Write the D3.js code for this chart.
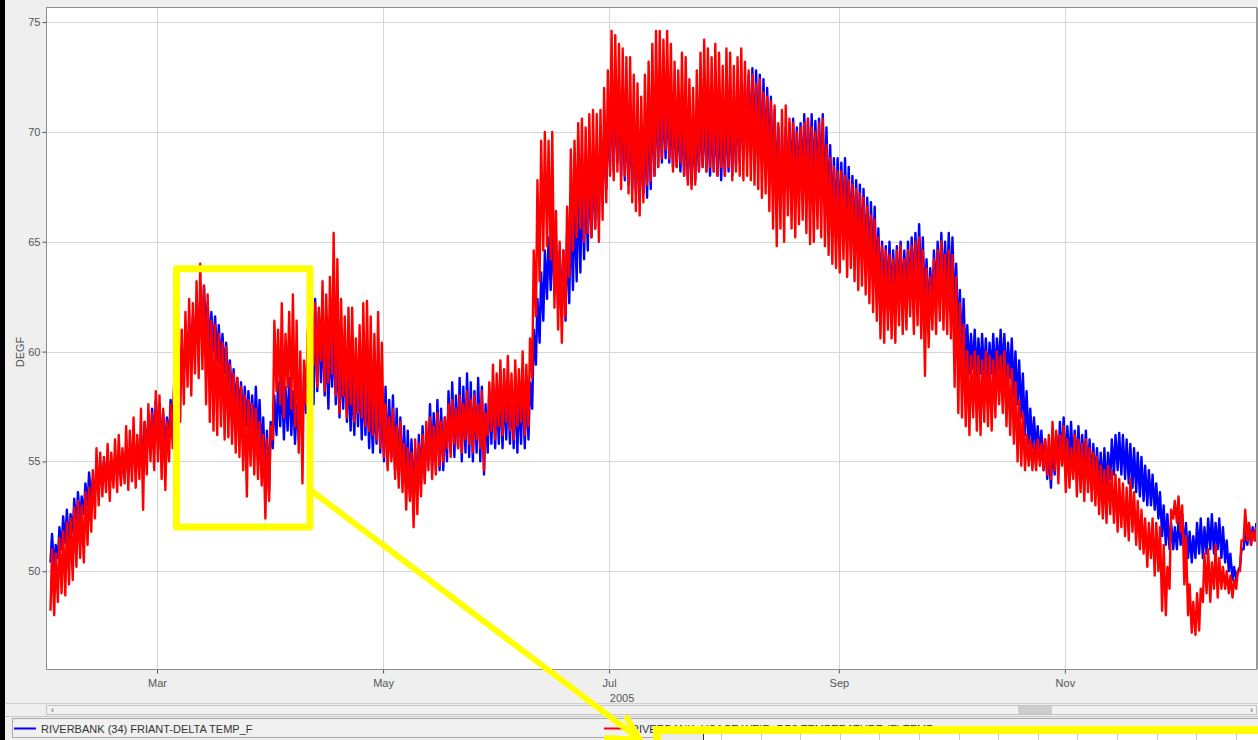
<!DOCTYPE html>
<html><head><meta charset="utf-8">
<script src="https://cdn.jsdelivr.net/npm/d3@7"></script>
<style>
html,body{margin:0;padding:0;background:#efefef;overflow:hidden;}
svg{display:block;font-family:"Liberation Sans",Arial,sans-serif;}
</style></head><body>
<svg id="chart" width="1258" height="740"></svg>
<script>
// ---------- data (daily low / high, starting 31 Jan 2005) ----------
const firstDay = [2005, 0, 31];
const blueHigh = [
51.7,51.2,52.0,52.5,52.8,52.6,53.3,53.6,53.4,54.0,54.5,54.2,54.8,54.6,55.0,55.2,54.8,55.0,55.2,55.4,55.6,55.4,56.0,55.8,56.2,56.8,57.0,57.4,57.8,
57.6,57.2,57.0,57.8,58.6,59.7,60.2,60.6,61.2,61.6,62.0,62.4,63.0,62.2,61.8,61.6,61.2,60.8,60.4,59.6,59.2,58.8,58.6,58.4,58.2,58.0,58.4,57.8,57.0,56.4,56.8,
58.0,58.6,59.0,58.4,58.8,58.2,57.6,58.4,59.0,60.2,61.6,62.4,61.8,61.4,60.6,60.4,61.0,60.2,59.6,60.0,59.2,58.8,59.0,59.4,58.6,58.8,58.2,57.8,58.6,58.2,
58.4,57.8,58.0,57.4,57.0,56.6,56.4,56.0,55.6,56.2,56.6,56.0,57.6,57.2,57.8,57.4,57.0,58.2,58.6,58.0,58.8,58.4,59.0,58.6,58.2,58.8,58.4,57.6,58.2,58.6,58.2,
58.6,58.4,58.8,58.4,58.6,58.2,58.8,58.4,58.6,61.0,62.4,63.6,64.6,65.2,65.6,65.0,64.6,64.6,65.4,66.4,67.0,67.6,67.8,68.2,68.4,68.8,69.0,69.2,69.8,70.4,
72.0,71.6,71.8,71.4,71.0,70.6,70.4,70.0,69.8,70.4,71.2,71.8,72.2,72.0,71.6,71.8,71.4,71.2,71.0,70.8,70.6,70.4,70.4,70.6,71.0,71.2,71.0,70.8,71.0,70.8,70.6,
71.0,71.2,71.0,71.6,71.8,72.2,72.6,72.9,72.8,72.6,72.4,72.0,71.6,71.0,70.2,69.8,70.2,70.4,70.6,70.2,70.4,70.8,70.6,70.8,70.5,70.6,70.8,70.2,69.4,68.8,68.8,
68.6,68.8,68.4,68.0,67.8,67.6,67.4,67.0,66.8,66.6,65.6,65.0,64.8,65.0,64.6,64.8,65.0,64.6,65.0,65.2,65.4,65.8,65.2,64.2,63.8,64.6,65.0,65.4,65.0,65.4,
65.2,64.0,62.8,62.4,61.2,60.8,61.0,60.6,60.8,60.6,60.4,60.8,60.6,61.0,60.8,60.4,60.6,60.0,59.6,59.0,58.2,57.4,57.0,56.6,56.4,56.0,55.6,55.8,56.2,56.8,57.0,
56.6,56.8,56.4,56.6,56.2,56.4,56.0,55.8,55.6,55.4,55.6,55.4,56.0,56.2,56.3,56.2,56.0,55.8,55.6,55.4,55.2,54.8,54.6,54.4,54.0,53.6,53.0,52.6,52.2,52.0,
52.4,52.6,52.2,51.8,51.6,52.2,52.4,52.0,52.4,52.6,52.2,52.4,52.0,51.4,50.8,50.2,50.0,51.0,51.8,52.2,52.0,52.2];
const blueLow = [
50.4,50.0,50.6,51.0,51.3,51.2,51.8,52.0,52.2,52.6,53.0,53.2,53.6,53.8,54.0,54.2,54.0,54.2,54.4,54.2,54.6,54.4,54.8,54.6,55.0,55.2,55.4,55.8,56.0,
56.0,55.6,55.4,56.0,56.6,57.8,58.4,59.0,59.4,60.0,60.4,60.6,61.0,60.6,60.2,60.0,59.6,59.4,59.0,58.2,57.8,57.4,57.2,56.8,56.6,56.4,56.2,55.8,55.2,53.8,53.6,
55.6,56.2,56.6,56.0,56.4,56.2,55.8,56.0,56.4,57.2,57.8,57.6,58.2,58.6,58.0,57.4,58.4,57.6,57.0,57.4,56.8,56.4,56.2,56.6,56.0,56.2,55.6,55.4,55.8,55.4,
55.0,54.8,55.2,54.6,54.4,54.0,53.8,53.4,53.2,53.6,54.0,54.2,55.0,54.8,55.0,54.6,54.6,55.0,55.4,55.2,55.6,55.0,55.4,55.2,55.0,55.4,55.0,54.4,55.4,55.8,55.6,
55.8,55.6,56.0,55.8,55.6,55.4,55.8,55.6,56.0,57.4,59.4,60.4,61.4,62.4,62.8,62.6,62.0,61.6,61.4,62.2,62.8,63.2,63.6,64.2,64.6,65.2,65.6,66.0,66.8,67.4,
68.4,68.2,68.6,68.0,67.8,67.6,67.4,67.2,66.8,67.2,67.0,67.4,68.0,68.4,68.6,68.8,68.6,68.4,68.4,68.2,68.0,67.8,67.6,67.8,68.2,68.4,68.2,68.0,68.2,68.0,67.8,
68.0,68.2,68.0,68.4,68.6,68.8,69.0,69.2,69.0,68.8,68.6,68.4,68.0,67.6,67.0,66.6,67.2,67.4,67.6,67.2,67.4,67.6,67.4,67.6,67.2,67.4,67.4,66.8,66.0,65.6,65.4,
65.4,65.6,65.2,64.8,64.6,64.4,64.2,63.8,63.6,63.4,62.8,62.4,62.2,62.4,62.0,62.2,62.4,62.0,62.4,62.6,62.8,63.0,62.6,61.8,61.4,62.0,62.4,62.8,62.6,62.8,
62.6,61.4,60.2,59.6,59.2,59.0,59.2,58.8,59.0,58.8,58.6,59.0,58.8,59.2,59.0,58.6,58.8,58.0,57.6,57.0,56.2,55.8,55.6,55.4,55.2,54.6,54.2,53.8,54.4,54.8,55.0,
54.6,54.8,54.6,54.8,54.4,54.6,54.2,54.0,54.0,53.8,53.8,53.6,54.2,54.4,54.6,54.4,54.2,54.0,53.8,53.6,53.4,53.2,53.0,53.0,52.8,52.4,51.6,51.2,51.0,51.0,
51.0,51.2,50.8,50.6,50.4,50.6,50.8,50.6,50.8,51.0,50.8,51.0,50.6,50.4,50.0,49.6,49.6,50.2,51.0,51.2,51.2,51.4];
const redHigh = [
51.0,50.8,51.5,51.8,52.2,52.4,52.9,53.2,53.0,53.6,53.8,54.6,55.6,55.4,55.2,55.8,55.4,56.0,56.2,55.6,56.6,56.4,57.0,56.2,57.4,56.8,57.6,57.2,58.2,
58.0,57.4,56.8,57.6,59.0,60.2,61.0,61.8,62.4,62.2,63.2,64.0,63.0,62.6,61.4,61.2,60.8,60.4,60.2,59.4,59.0,58.8,58.4,58.0,57.8,57.6,57.4,56.8,56.2,56.0,56.6,
61.4,61.0,62.2,60.8,61.8,62.6,61.4,60.0,59.6,61.0,62.6,62.2,62.0,63.2,62.6,63.4,65.4,64.2,62.4,61.6,62.0,62.0,60.6,61.2,62.2,62.3,61.6,60.8,61.8,60.4,
57.6,57.0,57.4,56.6,56.8,55.8,55.6,55.4,56.0,55.8,56.2,56.8,57.0,56.6,57.2,56.8,57.0,57.6,57.8,57.4,58.0,57.6,58.2,57.8,58.0,57.6,58.2,57.2,58.6,59.4,59.0,
59.6,59.2,59.8,59.0,59.6,59.2,60.0,59.4,60.6,64.6,67.8,69.6,70.0,69.6,70.0,66.4,65.0,64.6,66.6,69.2,69.6,70.4,70.6,70.2,70.8,71.0,70.8,71.0,72.0,72.8,
74.6,74.4,74.0,73.8,73.4,73.4,72.6,72.2,71.6,72.6,73.2,74.0,74.6,74.6,74.2,74.6,74.0,73.2,72.8,73.6,73.4,72.4,72.0,72.8,73.6,74.2,73.8,73.4,74.0,73.6,73.0,
73.8,73.6,73.0,73.4,73.8,73.2,72.8,72.6,72.2,72.4,71.8,71.6,71.4,71.2,70.4,71.0,71.2,70.6,70.4,70.0,70.2,70.4,70.6,70.2,70.0,70.4,70.6,69.4,68.8,68.4,68.2,
68.2,68.0,67.8,67.6,67.4,67.2,67.0,66.6,66.2,66.0,65.2,64.8,64.6,64.4,64.2,64.6,64.8,64.2,64.6,64.8,65.0,65.2,64.6,63.8,63.4,64.2,64.6,65.0,64.4,64.6,
64.4,63.4,62.2,61.2,60.0,59.8,60.0,59.8,59.6,60.0,59.8,59.6,60.0,59.8,60.0,59.4,59.2,58.6,57.8,57.2,56.2,56.0,55.8,56.0,55.8,56.0,56.2,56.8,56.4,56.2,56.6,
56.0,55.6,56.2,56.0,55.8,56.0,55.6,55.4,55.2,54.8,54.6,54.8,54.6,54.4,54.2,54.0,53.8,54.2,53.6,53.2,52.8,52.4,52.2,52.4,52.2,52.0,51.2,50.2,52.8,53.2,
53.4,53.0,51.6,49.4,48.6,49.0,49.2,50.8,51.0,50.4,51.2,50.6,50.2,50.0,49.8,49.6,50.0,51.4,52.8,52.2,51.8,52.0];
const redLow = [
48.2,48.0,48.6,49.0,48.9,49.4,49.6,50.2,50.6,50.4,51.2,51.8,52.4,53.0,53.4,53.6,53.2,53.8,53.6,53.9,54.0,53.7,54.1,53.8,54.2,52.8,54.4,55.0,54.6,
55.0,54.2,53.7,55.0,55.6,56.0,56.8,57.6,58.4,58.0,59.0,58.8,59.2,57.6,56.8,56.4,56.2,56.6,56.0,56.1,55.8,55.4,55.2,54.6,53.4,54.8,54.4,54.2,53.9,52.4,53.2,
56.0,58.2,57.6,57.0,58.4,57.4,56.6,55.4,54.0,57.6,58.8,59.4,58.4,59.6,58.2,58.6,59.0,58.0,57.2,58.0,57.0,57.6,56.8,57.2,57.0,56.6,56.4,56.2,56.0,55.6,
55.2,54.6,55.0,54.2,53.8,53.6,52.8,53.2,52.0,52.6,53.4,54.0,54.6,54.2,54.4,54.8,55.0,55.6,55.2,55.8,55.6,55.4,56.0,55.8,55.4,56.0,55.6,54.6,56.2,56.4,56.0,
56.6,56.2,56.8,56.4,56.0,56.6,56.8,56.2,56.6,58.8,61.6,63.2,64.6,64.8,64.2,62.0,61.0,60.4,61.6,63.4,64.6,65.2,65.6,65.0,65.4,65.2,65.6,65.0,66.0,66.8,
68.0,67.8,68.2,67.4,68.0,67.2,66.8,66.4,66.2,66.8,67.6,67.8,68.0,68.4,68.8,69.2,68.8,68.2,68.4,68.6,68.0,67.6,67.4,67.6,68.2,68.4,68.2,68.4,68.2,68.0,68.4,
68.0,68.4,67.8,68.2,68.0,67.8,68.0,67.8,67.6,67.4,67.0,67.2,66.4,65.6,64.8,65.6,65.0,66.2,65.6,65.2,65.8,66.0,65.4,64.9,65.0,65.6,65.2,64.8,64.4,64.0,63.8,
63.6,64.2,63.4,63.8,63.2,62.8,63.0,62.6,62.2,61.8,61.4,60.6,60.4,61.0,60.6,60.4,61.2,60.8,61.0,61.6,60.8,61.2,60.6,58.9,60.2,61.0,60.8,61.4,61.0,60.8,
60.6,58.4,57.2,57.0,56.6,56.2,57.0,56.4,56.2,56.8,56.6,56.4,57.0,57.6,57.2,56.6,56.2,55.8,55.0,54.8,54.6,54.8,54.6,54.6,54.8,54.6,54.4,54.2,54.6,54.0,54.8,
53.6,53.8,54.2,53.4,53.6,53.2,53.6,53.2,53.0,52.6,52.4,52.2,52.6,52.2,51.8,52.0,51.6,51.4,51.8,51.2,51.0,50.8,50.2,50.6,49.8,50.0,48.2,48.0,49.2,52.4,
52.2,51.8,49.4,48.0,47.2,47.1,47.3,48.6,49.0,48.6,49.2,48.8,49.2,49.2,49.0,48.8,49.2,50.0,51.4,51.4,51.2,51.4];

const xTickMonths = [2, 4, 6, 8, 10];
const xTickLabels = ["Mar", "May", "Jul", "Sep", "Nov"];
const yTicks = [50, 55, 60, 65, 70, 75];
const yearLabel = "2005";
const yAxisLabel = "DEGF";
const seriesNames = ["RIVERBANK (34) FRIANT-DELTA TEMP_F", "RIVERBANK, USACE WEIR, DP3 TEMPERATURE (F) TEMP"];
const seriesColors = ["#0000ff", "#ff0000"];

// ---------- layout ----------
const W = 1258, H = 740;
const P = {left: 47, right: 1256, top: 8, bottom: 669};
const svg = d3.select("#chart");

svg.append("rect").attr("width", W).attr("height", H).attr("fill", "#efefef");
svg.append("rect").attr("x", 0).attr("y", 0).attr("width", 5).attr("height", H).attr("fill", "#000");

const x = d3.scaleTime()
  .domain([new Date(2005, 0, 30, 7, 26), new Date(2005, 11, 22, 14, 0)])
  .range([P.left, P.right]);
const y = d3.scaleLinear().domain([45.55, 75.64]).range([P.bottom, P.top]);

svg.append("rect").attr("x", P.left).attr("y", P.top)
  .attr("width", P.right - P.left).attr("height", P.bottom - P.top).attr("fill", "#fff");

// grid
const grid = svg.append("g");
const xTickDates = xTickMonths.map(m => new Date(2005, m, 1));
grid.selectAll(".gx").data(xTickDates).join("line")
  .attr("x1", d => Math.round(x(d)) + 0.5).attr("x2", d => Math.round(x(d)) + 0.5)
  .attr("y1", P.top).attr("y2", P.bottom).attr("stroke", "#d6d6d6");
grid.selectAll(".gy").data(yTicks).join("line")
  .attr("y1", d => Math.round(y(d)) + 0.5).attr("y2", d => Math.round(y(d)) + 0.5)
  .attr("x1", P.left).attr("x2", P.right).attr("stroke", "#d6d6d6");

// axes
const yAxis = d3.axisLeft(y).tickValues(yTicks).tickSize(4).tickPadding(2).tickFormat(d3.format("d"));
const gy = svg.append("g").attr("transform", `translate(${P.left - 0.5},0)`).call(yAxis);
gy.select(".domain").remove();
gy.selectAll("line").attr("stroke", "#555");
gy.selectAll("text").attr("fill", "#555").attr("font-size", 11).attr("font-family", "Liberation Sans, Arial, sans-serif");

const xAxis = d3.axisBottom(x).tickValues(xTickDates).tickSize(4).tickPadding(6)
  .tickFormat((d, i) => xTickLabels[i]);
const gx = svg.append("g").attr("transform", `translate(0,${P.bottom + 0.5})`).call(xAxis);
gx.select(".domain").remove();
gx.selectAll("line").attr("stroke", "#555");
gx.selectAll("text").attr("fill", "#555").attr("font-size", 11).attr("font-family", "Liberation Sans, Arial, sans-serif");

svg.append("text").attr("x", x(new Date(2005, 6, 1)) + 13).attr("y", 702)
  .attr("text-anchor", "middle").attr("font-size", 11).attr("fill", "#555").text(yearLabel);
svg.append("text").attr("transform", "translate(24,352) rotate(-90)")
  .attr("text-anchor", "middle").attr("font-size", 11).attr("fill", "#555").text(yAxisLabel);

// series
const clip = svg.append("clipPath").attr("id", "plotclip");
clip.append("rect").attr("x", P.left).attr("y", P.top)
  .attr("width", P.right - P.left).attr("height", P.bottom - P.top);

function buildPoints(lows, highs) {
  const pts = [];
  const n = Math.min(lows.length, highs.length);
  for (let i = 0; i < n; i++) {
    pts.push([new Date(firstDay[0], firstDay[1], firstDay[2] + i, 6), lows[i]]);
    pts.push([new Date(firstDay[0], firstDay[1], firstDay[2] + i, 16), highs[i]]);
  }
  return pts;
}
const line = d3.line().x(d => x(d[0])).y(d => y(d[1]));
const series = [buildPoints(blueLow, blueHigh), buildPoints(redLow, redHigh)];
const gl = svg.append("g").attr("clip-path", "url(#plotclip)");
series.forEach((pts, i) => {
  gl.append("path").attr("d", line(pts)).attr("fill", "none")
    .attr("stroke", seriesColors[i]).attr("stroke-width", 2.4).attr("stroke-linejoin", "round");
});

// plot border
svg.append("rect").attr("x", P.left - 0.5).attr("y", P.top - 0.5)
  .attr("width", P.right - P.left + 1).attr("height", P.bottom - P.top + 1)
  .attr("fill", "none").attr("stroke", "#8c8c8c");
svg.append("rect").attr("x", P.right).attr("y", P.top).attr("width", 2).attr("height", P.bottom - P.top)
  .attr("fill", "#9a9a9a");

// scrollbar
svg.append("line").attr("x1", 5).attr("x2", W).attr("y1", 703.5).attr("y2", 703.5).attr("stroke", "#d0d0d0");
svg.append("rect").attr("x", 46.5).attr("y", 705.5).attr("width", 1210).attr("height", 9)
  .attr("fill", "#f2f2f2").attr("stroke", "#c4c4c4");
svg.append("rect").attr("x", 1018).attr("y", 706).attr("width", 34).attr("height", 8).attr("fill", "#cdcdcd");
svg.append("text").attr("x", 51).attr("y", 713).attr("font-size", 9).attr("fill", "#444").text("‹");
svg.append("text").attr("x", 1250).attr("y", 713).attr("font-size", 9).attr("fill", "#444").text("›");
svg.append("line").attr("x1", 5).attr("x2", W).attr("y1", 716.5).attr("y2", 716.5).attr("stroke", "#c8c8c8");

// legend
svg.append("rect").attr("x", 12.5).attr("y", 718.5).attr("width", 1250).attr("height", 19)
  .attr("fill", "#f0f0f0").attr("stroke", "#a8a8a8");
const legendX = [14, 604];
seriesNames.forEach((name, i) => {
  svg.append("line").attr("x1", legendX[i]).attr("x2", legendX[i] + 22).attr("y1", 728.5).attr("y2", 728.5)
    .attr("stroke", seriesColors[i]).attr("stroke-width", 2);
  svg.append("text").attr("x", legendX[i] + 27).attr("y", 732.5).attr("font-size", 11)
    .attr("fill", "#333").text(name);
});

// table region inside the highlighted bottom box
svg.append("rect").attr("x", 657).attr("y", 733).attr("width", 601).attr("height", 8).attr("fill", "#fff");
svg.append("rect").attr("x", 661).attr("y", 734).attr("width", 42).attr("height", 7).attr("fill", "#ececec");
svg.append("line").attr("x1", 703.5).attr("x2", 703.5).attr("y1", 734).attr("y2", 740).attr("stroke", "#333");
for (let cx = 721; cx < W; cx += 39.6) {
  svg.append("line").attr("x1", Math.round(cx) + 0.5).attr("x2", Math.round(cx) + 0.5)
    .attr("y1", 734).attr("y2", 740).attr("stroke", "#c8c8c8");
}

// yellow annotation
const yellow = "#ffff00";
const ann = svg.append("g").attr("fill", "none").attr("stroke", yellow).attr("stroke-linejoin", "round").attr("stroke-linecap", "round");
ann.append("rect").attr("x", 176.5).attr("y", 268.8).attr("width", 133.5).attr("height", 258.2).attr("stroke-width", 7);
ann.append("line").attr("x1", 313).attr("y1", 492).attr("x2", 638).attr("y2", 738).attr("stroke-width", 6);
ann.append("line").attr("x1", 627).attr("y1", 718).attr("x2", 640).attr("y2", 740).attr("stroke-width", 6);
ann.append("line").attr("x1", 607).attr("y1", 738).attr("x2", 640).attr("y2", 740).attr("stroke-width", 6);
ann.append("rect").attr("x", 657).attr("y", 730).attr("width", 700).attr("height", 60).attr("stroke-width", 8).attr("stroke-linejoin", "miter");
</script>
</body></html>
